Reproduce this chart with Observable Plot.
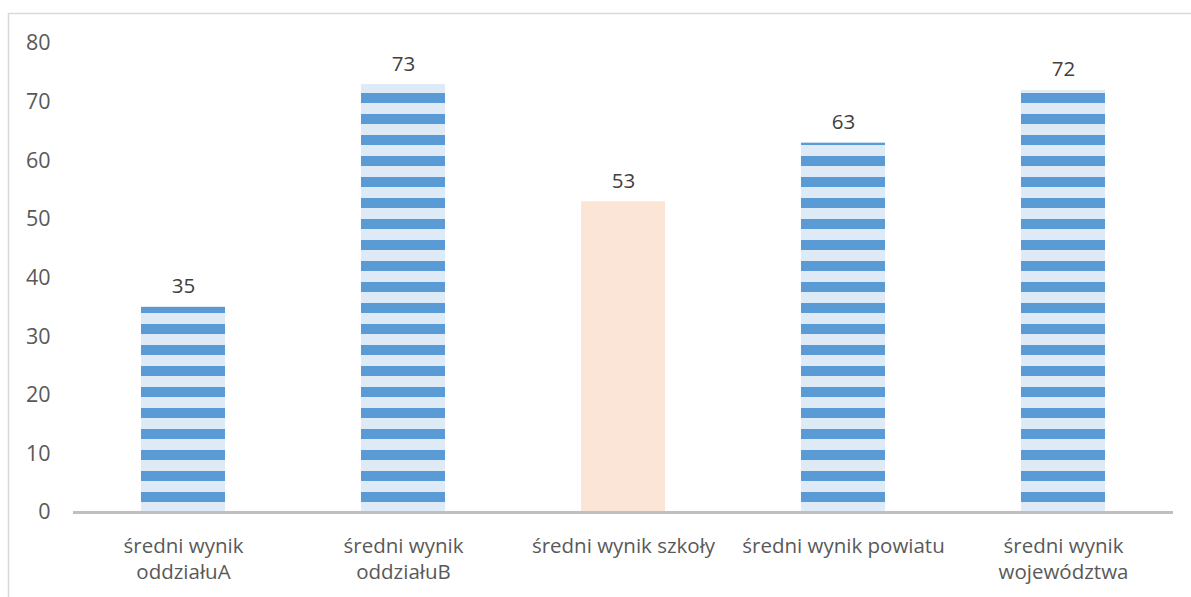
<!DOCTYPE html>
<html>
<head>
<meta charset="utf-8">
<script src="https://cdn.jsdelivr.net/npm/d3@7"></script>
<script src="https://cdn.jsdelivr.net/npm/@observablehq/plot@0.6"></script>
<style>
  html, body { margin: 0; padding: 0; background: #fff; }
  #chart svg { display: block; }
</style>
</head>
<body>
<div id="chart"></div>
<script>
const categories = [
  "średni wynik\noddziałuA",
  "średni wynik\noddziałuB",
  "średni wynik szkoły",
  "średni wynik powiatu",
  "średni wynik\nwojewództwa"
];
const values = [35, 73, 53, 63, 72];
const fills = ["url(#stripes)", "url(#stripes)", "#FBE5D6", "url(#stripes)", "url(#stripes)"];
const yTicks = [0, 10, 20, 30, 40, 50, 60, 70, 80];

const data = categories.map((c, i) => ({category: c, value: values[i], fill: fills[i]}));

const plot = Plot.plot({
  width: 1191,
  height: 597,
  marginLeft: 73,
  marginRight: 18,
  marginTop: 43,
  marginBottom: 85,
  style: {fontFamily: "'Open Sans', sans-serif", color: "#595959", background: "#fff"},
  x: {domain: categories, paddingInner: 0.618, paddingOuter: 0.309, label: null},
  y: {domain: [0, 80], label: null},
  color: {type: "identity"},
  marks: [
    Plot.barY(data, {x: "category", y: "value", fill: "fill"}),
    Plot.ruleY([0], {stroke: "#BFBFBF", strokeWidth: 3}),
    Plot.text(data, {x: "category", y: "value", text: d => String(d.value), dy: -14, lineAnchor: "bottom", fill: "#404040", fontSize: 20.5}),
    Plot.axisY({ticks: yTicks, tickSize: 0, tickPadding: 23, fontSize: 21.5, label: null, fill: "#595959"}),
    Plot.axisX({tickSize: 0, tickPadding: 22, fontSize: 20.5, lineHeight: 1.27, label: null, fill: "#595959"})
  ]
});

const svg = d3.select(plot);
const defs = svg.insert("defs", ":first-child");
const pat = defs.append("pattern")
  .attr("id", "stripes")
  .attr("patternUnits", "userSpaceOnUse")
  .attr("x", 0).attr("y", 9)
  .attr("width", 20).attr("height", 21);
pat.append("rect").attr("x", 0).attr("y", 0).attr("width", 20).attr("height", 21).attr("fill", "#DEEBF7");
pat.append("rect").attr("x", 0).attr("y", 0).attr("width", 20).attr("height", 10).attr("fill", "#5B9BD5");

svg.append("path")
  .attr("d", "M1191,13.5H8.5V597")
  .attr("fill", "none")
  .attr("stroke", "#D9D9D9")
  .attr("stroke-width", 1.5);

document.getElementById("chart").appendChild(plot);
</script>
</body>
</html>
